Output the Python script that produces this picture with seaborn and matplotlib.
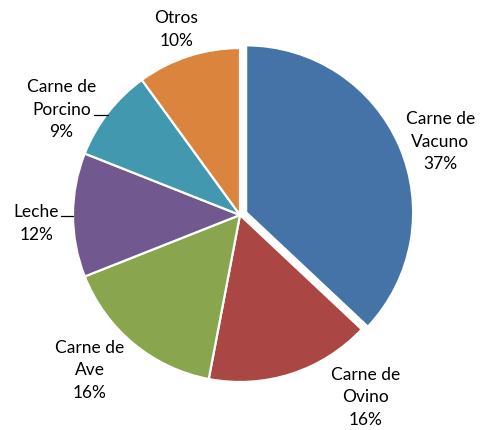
import matplotlib
matplotlib.use("Agg")
import matplotlib.pyplot as plt
import seaborn as sns
import numpy as np

# data
categories = ["Carne de\nVacuno", "Carne de\nOvino", "Carne de\nAve", "Leche",
              "Carne de\nPorcino", "Otros"]
shares = [37, 16, 16, 12, 9, 10]
colors = ["#4572A7", "#AA4643", "#89A54E", "#71588F", "#4198AF", "#DB843D"]
explode = [0.04, 0, 0, 0, 0, 0]

# label placement (radius units, relative to pie centre)
label_pos = [(1.20, 0.44), (0.75, -1.09), (-0.90, -0.93), (-1.22, -0.05),
             (-1.07, 0.63), (-0.38, 1.11)]
# leader lines: start point of line next to label (None = no line)
leader_start = [None, None, None, (-1.07, -0.006), (-0.875, 0.599), None]

sns.set_theme(style="white")
plt.rcParams["font.family"] = ["Lato", "DejaVu Sans"]

fig = plt.figure(figsize=(4.85, 4.3), dpi=100)
ax = fig.add_axes([0, 0, 1, 1])

wedges, _ = ax.pie(shares, colors=colors, explode=explode, startangle=90,
                   counterclock=False, radius=1.0,
                   wedgeprops=dict(edgecolor="white", linewidth=1.6))

for w, name, val, pos, ls in zip(wedges, categories, shares, label_pos, leader_start):
    ax.text(pos[0], pos[1], f"{name}\n{val}%", ha="center", va="center",
            fontsize=12.5, color="#000000", linespacing=1.5)
    if ls is not None:
        mid = np.deg2rad((w.theta1 + w.theta2) / 2)
        ax.plot([ls[0], np.cos(mid)], [ls[1], ls[1]], color="black", lw=0.9)

ax.set_aspect("auto")
ax.set_xlim(-240 / 167, 245 / 167)
ax.set_ylim(-215 / 167, 215 / 167)
ax.axis("off")

fig.savefig("out.png", dpi=100, facecolor="white")
